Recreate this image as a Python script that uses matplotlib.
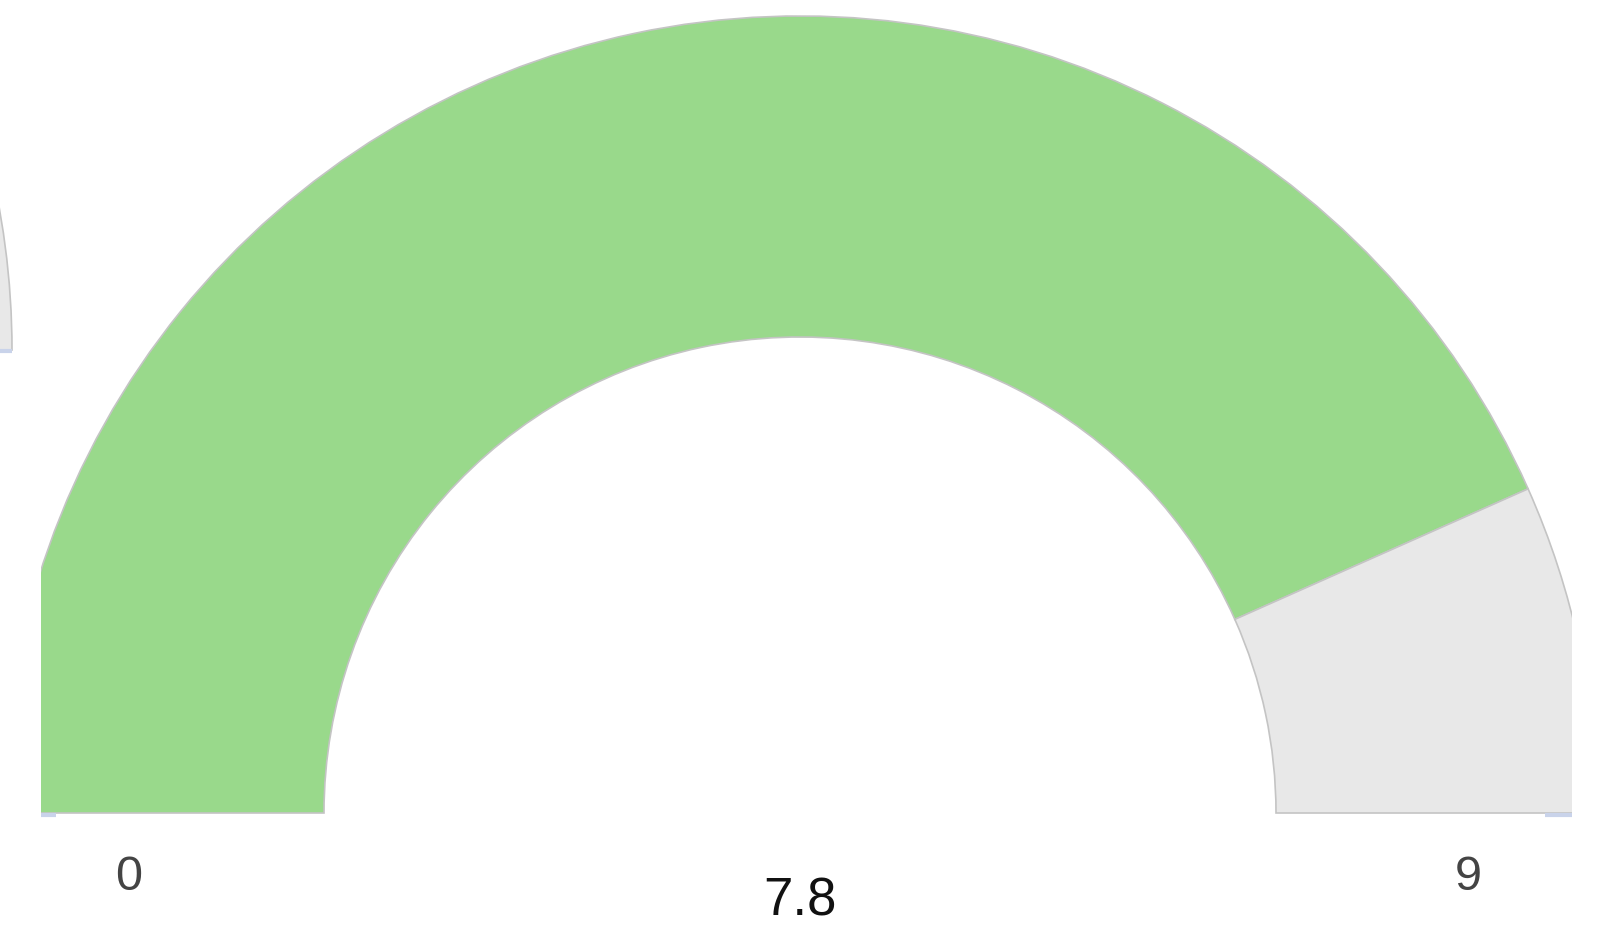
import matplotlib.pyplot as plt
from matplotlib.patches import Wedge, Rectangle

# gauge reading
value = 7.8
min_val = 0
max_val = 9
labels = ["0", "9"]

green = "#99d98b"
track = "#e8e8e8"
edge = "#c4c4c4"
tickblue = "#c9d3ea"

W, H = 1598, 931
fig = plt.figure(figsize=(W / 100, H / 100), dpi=100)
ax = fig.add_axes([0, 0, 1, 1])
ax.set_xlim(0, W)
ax.set_ylim(0, H)
ax.set_aspect("equal")
ax.axis("off")

cx, cy = 800, 118
r_out, r_in = 797, 476
width = r_out - r_in

# visible area of the gauge panel
clip = Rectangle((41, 0), 1572 - 41, H, transform=ax.transData)

ang = 180 * (1 - (value - min_val) / (max_val - min_val))
for t1, t2, c in [(ang, 180, green), (0, ang, track)]:
    w = Wedge((cx, cy), r_out, t1, t2, width=width, facecolor=c,
              edgecolor=edge, linewidth=1.2, zorder=2)
    ax.add_patch(w)
    w.set_clip_path(clip)

# neighbouring panel's gauge peeking in on the left
nb = Wedge((12 - r_out, 581), r_out, 0, 60, width=width, facecolor=track,
           edgecolor=edge, linewidth=1.2, zorder=2)
ax.add_patch(nb)
nb.set_clip_path(Rectangle((0, 0), 13, H, transform=ax.transData))
ax.plot([0, 12], [580, 580], color=tickblue, lw=3, solid_capstyle="butt", zorder=3)

# baseline ticks at both ends
ax.plot([41, 56], [116, 116], color=tickblue, lw=3, solid_capstyle="butt", zorder=3)
ax.plot([1545, 1572], [116, 116], color=tickblue, lw=3, solid_capstyle="butt", zorder=3)

ax.text(129, 54, labels[0], fontsize=35, color="#444444", family="Liberation Sans",
        ha="center", va="center")
ax.text(1468, 54, labels[1], fontsize=35, color="#444444", family="Liberation Sans",
        ha="center", va="center")
ax.text(cx, 29, f"{value:g}", fontsize=38, color="#111111", family="Liberation Sans",
        ha="center", va="center")

fig.savefig("out.png", dpi=100)
